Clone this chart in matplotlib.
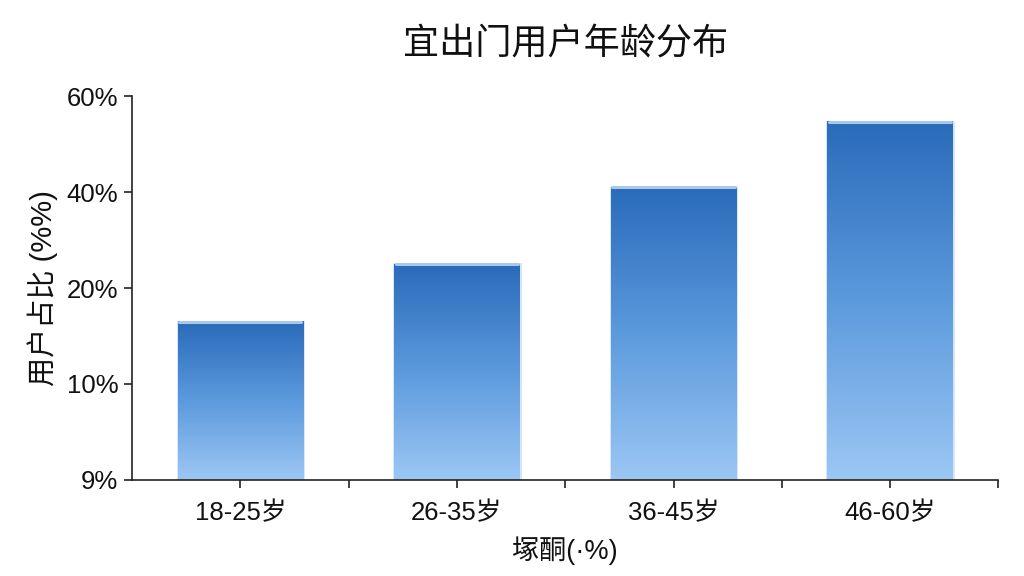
import numpy as np
import matplotlib
matplotlib.use("Agg")
import matplotlib.pyplot as plt
from matplotlib.colors import LinearSegmentedColormap

plt.rcParams['font.family'] = ['Liberation Sans', 'Noto Sans CJK SC', 'DejaVu Sans']

categories = ["18-25岁", "26-35岁", "36-45岁", "46-60岁"]
values = [16.5, 25.0, 41.0, 54.6]
tick_values = [9, 10, 20, 40, 60]
tick_labels = ["9%", "10%", "20%", "40%", "60%"]
title = "宜出门用户年龄分布"
ylabel = "用户占比 (%%)"
xlabel = "塚酮(·%)"

tv = np.array(tick_values, dtype=float)
tp = np.arange(len(tick_values), dtype=float)

def fwd(v):
    return np.interp(v, tv, tp)

def inv(p):
    return np.interp(p, tp, tv)

fig = plt.figure(figsize=(10.24, 5.76), dpi=100)
ax = fig.add_axes([0.129, 0.1667, 0.846, 0.6666])
ax.set_yscale('function', functions=(fwd, inv))
ax.set_ylim(9, 60)
ax.set_xlim(-0.5, 3.5)

x = np.arange(len(categories))
width = 0.58
base = tick_values[0]
bars = ax.bar(x, np.array(values) - base, width=width, bottom=base,
              color='none', edgecolor='#d3e5f8', linewidth=2.0, zorder=1)

grad = np.linspace(0, 1, 256).reshape(-1, 1)
cmap = LinearSegmentedColormap.from_list('g', ['#9cc7f4', '#5c9add', '#2a6bba'])
to_axes = ax.transData + ax.transAxes.inverted()
for b in bars:
    x0 = b.get_x()
    x1 = x0 + b.get_width()
    top = b.get_y() + b.get_height()
    (ax0, ay0) = to_axes.transform((x0, base))
    (ax1, ay1) = to_axes.transform((x1, top))
    ax.imshow(grad, extent=(ax0, ax1, ay0, ay1), origin='lower', cmap=cmap,
              aspect='auto', interpolation='bicubic', zorder=2,
              transform=ax.transAxes)
    ax.plot([x0 + 0.008, x1 - 0.008], [top, top], color='#a9c9ea', lw=2.2, zorder=3,
            solid_capstyle='round')

ax.set_xlim(-0.5, 3.5)
ax.set_ylim(9, 60)
ax.set_yticks(tick_values)
ax.set_yticklabels(tick_labels)
ax.yaxis.set_minor_locator(matplotlib.ticker.NullLocator())
ax.set_xticks(x)
ax.set_xticklabels(categories)
ax.set_xticks([0.5, 1.5, 2.5, 3.5], minor=True)

for s in ['top', 'right']:
    ax.spines[s].set_visible(False)
for s in ['left', 'bottom']:
    ax.spines[s].set_color('#222222')
    ax.spines[s].set_linewidth(1.2)

ax.tick_params(axis='both', which='both', direction='out', length=6, width=1.2,
               color='#222222', labelsize=18.5, labelcolor='#111111')
ax.tick_params(axis='x', pad=9)
ax.tick_params(axis='y', pad=4)

ax.set_title(title, fontsize=26, pad=30, color='#111111')
ax.set_ylabel(ylabel, fontsize=21, labelpad=6, color='#111111')
ax.set_xlabel(xlabel, fontsize=19.5, labelpad=8, color='#111111')

fig.savefig('out.png', dpi=100, facecolor='white')
